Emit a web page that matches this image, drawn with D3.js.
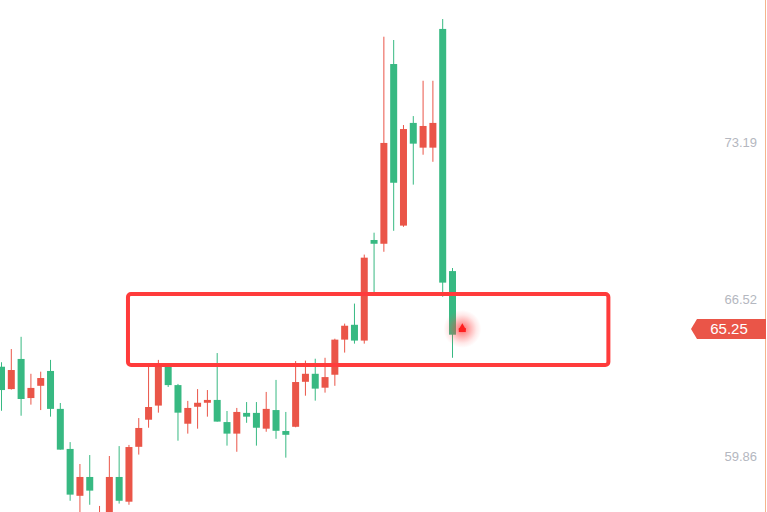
<!DOCTYPE html>
<html><head><meta charset="utf-8">
<script src="https://cdn.jsdelivr.net/npm/d3@7/dist/d3.min.js"></script>
<style>html,body{margin:0;padding:0;background:#fff;overflow:hidden}</style>
</head><body>
<svg id="c" width="767" height="512"></svg>
<script>
// ---- data ----
const opens  = [63.65,62.70,63.98,62.32,62.84,63.47,61.86,60.16,58.17,58.97,56.90,57.20,58.97,57.92,60.25,61.40,62.00,63.64,62.87,61.23,61.95,62.12,62.24,61.30,60.81,61.69,61.69,61.02,61.81,60.92,61.10,63.01,63.35,62.76,63.31,64.80,65.43,64.76,69.03,68.87,76.50,69.64,74.00,72.95,72.95,77.99,67.71];
const highs  = [63.84,64.40,64.92,63.35,63.44,63.94,62.11,60.45,59.52,59.90,57.74,59.86,60.28,60.33,61.47,63.64,63.94,63.68,62.92,62.20,62.70,62.66,64.23,61.77,61.90,62.15,62.15,62.58,63.09,61.73,63.89,63.91,63.99,64.03,64.84,65.48,66.33,68.41,69.34,77.66,77.52,73.91,74.29,75.79,75.79,78.41,67.84];
const lows   = [61.78,62.68,61.57,62.04,61.81,61.53,60.13,57.96,57.35,57.79,56.70,57.00,57.84,57.79,59.92,61.06,61.70,62.79,60.51,60.81,61.02,61.53,61.32,60.30,60.04,61.27,60.30,60.89,60.59,59.79,61.08,62.42,62.21,62.55,62.84,64.25,64.63,64.63,66.78,68.53,69.42,69.59,71.38,72.65,72.35,66.62,64.03];
const closes = [62.66,63.51,62.28,62.75,63.17,61.86,60.13,58.22,58.97,58.39,57.40,58.97,57.96,60.24,61.05,61.94,63.64,62.87,61.70,61.90,62.12,62.24,61.32,60.81,61.73,61.53,61.06,61.86,60.93,60.76,63.00,63.35,62.72,63.21,64.80,65.39,64.76,68.28,68.87,73.15,71.46,73.74,73.12,73.87,74.00,67.22,65.01];
const tickValues = [59.86, 66.52, 73.19];
const tickLabels = ["59.86", "66.52", "73.19"];
const lastPrice = 65.25;
const lastPriceLabel = "65.25";
// highlighted zone (price range and candle index range)
const zonePrices = [66.74, 63.72];
const zoneIndex = [12.9, 61.9];

// ---- drawing ----
const svg = d3.select("#c");
const W = 767, H = 512;
const x = d3.scaleLinear().domain([0, 46]).range([1.5, 452.5]);
const y = d3.scaleLinear().domain([59.86, 73.19]).range([456, 142]);
const UP = "#ea5548", DOWN = "#37b982";
const bodyW = 7;

const candles = opens.map((o, i) => ({i, o, h: highs[i], l: lows[i], c: closes[i]}));

const g = svg.append("g");
g.selectAll("line.wick").data(candles).join("line")
  .attr("class", "wick")
  .attr("x1", d => x(d.i)).attr("x2", d => x(d.i))
  .attr("y1", d => y(d.h)).attr("y2", d => y(d.l))
  .attr("stroke", d => d.c >= d.o ? UP : DOWN)
  .attr("stroke-width", 1);
g.selectAll("rect.body").data(candles).join("rect")
  .attr("class", "body")
  .attr("x", d => x(d.i) - bodyW / 2)
  .attr("width", bodyW)
  .attr("y", d => y(Math.max(d.o, d.c)))
  .attr("height", d => Math.max(1, Math.abs(y(d.o) - y(d.c))))
  .attr("fill", d => d.c >= d.o ? UP : DOWN);

// glow marker at the last price
const defs = svg.append("defs");
const rg = defs.append("radialGradient").attr("id", "glow");
rg.append("stop").attr("offset", "0%").attr("stop-color", "#ff2a2a").attr("stop-opacity", 0.7);
rg.append("stop").attr("offset", "40%").attr("stop-color", "#ff3b3b").attr("stop-opacity", 0.4);
rg.append("stop").attr("offset", "75%").attr("stop-color", "#ff4b4b").attr("stop-opacity", 0.12);
rg.append("stop").attr("offset", "100%").attr("stop-color", "#ff4b4b").attr("stop-opacity", 0);
const gx = x(47), gy = y(lastPrice);
svg.append("circle").attr("cx", gx).attr("cy", gy).attr("r", 19).attr("fill", "url(#glow)");
svg.append("path")
  .attr("d", d3.symbol().type(d3.symbolTriangle).size(24)())
  .attr("transform", `translate(${gx},${gy - 1.5})`).attr("fill", "#ff1f1f");
svg.append("rect").attr("x", gx - 3.5).attr("y", gy - 1).attr("width", 7).attr("height", 4).attr("fill", "#ff1f1f");

// annotation zone
svg.append("rect")
  .attr("x", x(zoneIndex[0])).attr("y", y(zonePrices[0]))
  .attr("width", x(zoneIndex[1]) - x(zoneIndex[0]))
  .attr("height", y(zonePrices[1]) - y(zonePrices[0]))
  .attr("rx", 3).attr("ry", 3)
  .attr("fill", "none").attr("stroke", "#ff3b3b").attr("stroke-width", 4);

// right axis
const axis = d3.axisRight(y).tickValues(tickValues).tickSize(0)
  .tickFormat((d, i) => tickLabels[i]);
const ag = svg.append("g").attr("transform", "translate(757,0)").call(axis);
ag.select(".domain").remove();
ag.selectAll("text")
  .attr("x", 0).attr("text-anchor", "end")
  .attr("fill", "#b4b7c0")
  .style("font-family", "Liberation Sans, Arial, sans-serif")
  .style("font-size", "13px");

// orange edge line
svg.append("line").attr("x1", 765.5).attr("x2", 765.5).attr("y1", 0).attr("y2", H)
  .attr("stroke", "#f6b48c").attr("stroke-width", 1);

// last price tag
const ty = y(lastPrice);
svg.append("path")
  .attr("d", `M691,${ty} L697,${ty - 10} L766,${ty - 10} L766,${ty + 10} L697,${ty + 10} Z`)
  .attr("fill", "#ea5548");
svg.append("text").attr("x", 729).attr("y", ty).attr("dy", "0.36em")
  .attr("text-anchor", "middle").attr("fill", "#fff")
  .style("font-family", "Liberation Sans, Arial, sans-serif")
  .style("font-size", "15px").text(lastPriceLabel);
</script>
</body></html>
